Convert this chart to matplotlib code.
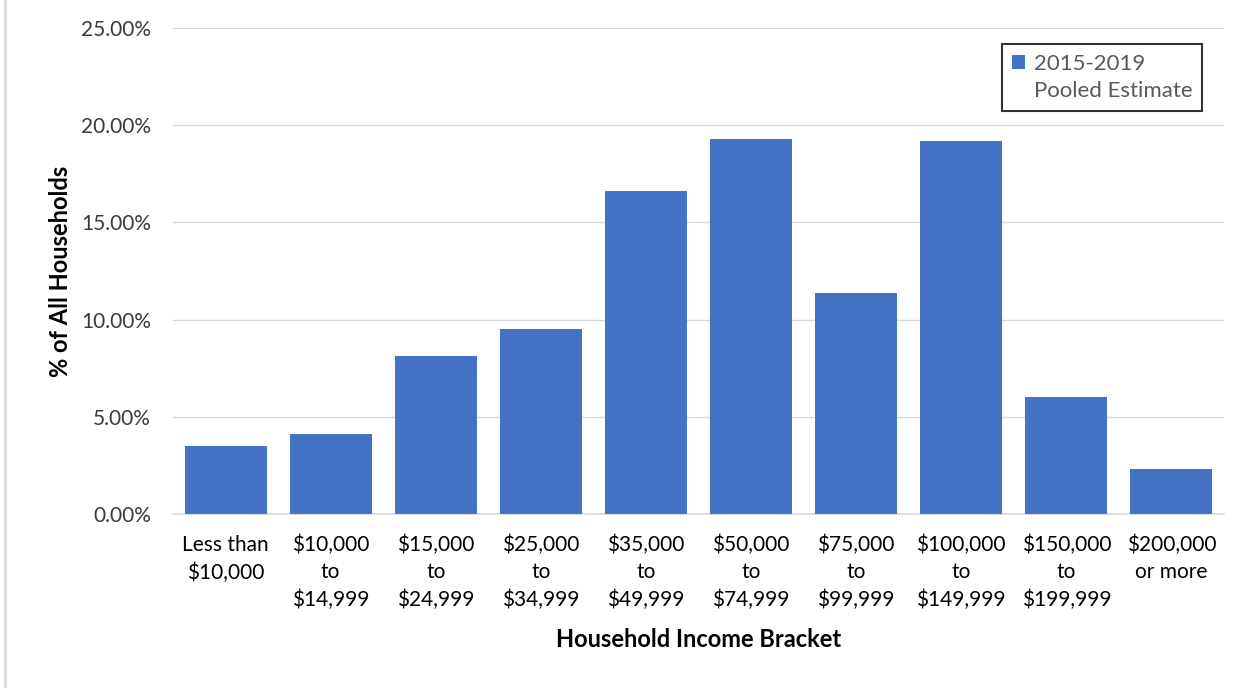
import matplotlib
matplotlib.use('Agg')
import matplotlib.pyplot as plt
from matplotlib.lines import Line2D
from matplotlib.patches import Patch
from matplotlib.ticker import FuncFormatter

brackets = ['Less than\n$10,000', '$10,000\nto\n$14,999', '$15,000\nto\n$24,999',
            '$25,000\nto\n$34,999', '$35,000\nto\n$49,999', '$50,000\nto\n$74,999',
            '$75,000\nto\n$99,999', '$100,000\nto\n$149,999', '$150,000\nto\n$199,999',
            '$200,000\nor more']
share = [3.50, 4.12, 8.12, 9.52, 16.60, 19.30, 11.37, 19.20, 6.02, 2.30]
yticks = [0, 5, 10, 15, 20, 25]
series_label = ['2015-2019', 'Pooled Estimate']

plt.rcParams['font.family'] = ['Lato', 'DejaVu Sans']

fig = plt.figure(figsize=(12.5, 6.88), dpi=100)
ax = fig.add_axes([0.1384, 0.2529, 0.8408, 0.7064])

x = range(len(share))
ax.bar(x, share, width=0.78, color='#4472C4', zorder=3)

ax.set_xlim(-0.5, len(share) - 0.5)
ax.set_ylim(0, 25)
ax.set_yticks(yticks)
ax.yaxis.set_major_formatter(FuncFormatter(lambda v, p: '%.2f%%' % v))
ax.set_xticks(list(x))
ax.set_xticklabels(brackets, fontsize=15, color='black', linespacing=1.45)
ax.tick_params(axis='y', labelsize=15, labelcolor='#3a3a3a', length=0, pad=16)
ax.tick_params(axis='x', length=0, pad=15)
ax.grid(axis='y', color='#d9d9d9', linewidth=1, zorder=0)
for s in ['top', 'right', 'left']:
    ax.spines[s].set_visible(False)
ax.spines['bottom'].set_color('#d9d9d9')
ax.spines['bottom'].set_linewidth(1.2)

ax.set_ylabel('% of All Households', fontsize=17, fontweight='bold', labelpad=6)
ax.set_xlabel('Household Income Bracket', fontsize=17, fontweight='bold', labelpad=13)

# legend: marker next to the first line only, like the original
handles = [Patch(facecolor='#4472C4', edgecolor='none'),
           Patch(facecolor='none', edgecolor='none')]
leg = ax.legend(handles, series_label, loc='upper right', bbox_to_anchor=(0.990, 0.99),
                fontsize=16, frameon=True, fancybox=False, handlelength=0.6,
                handleheight=0.6, handletextpad=0.4, borderpad=0.45,
                labelspacing=0.3, labelcolor='#595959')
leg.get_frame().set_edgecolor('black')
leg.get_frame().set_linewidth(1.5)

fig.add_artist(Line2D([0.004, 0.004], [0, 1], transform=fig.transFigure,
                      color='#d9d9d9', linewidth=2))

fig.savefig('out.png', dpi=100)
